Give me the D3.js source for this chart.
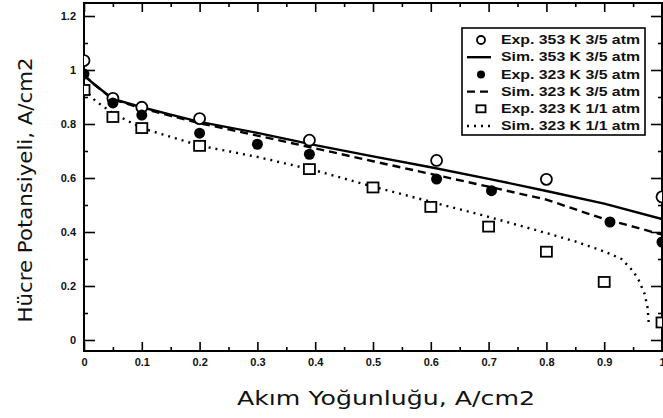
<!DOCTYPE html>
<html>
<head>
<meta charset="utf-8">
<script src="https://cdn.jsdelivr.net/npm/d3@7"></script>
<style>
  body { margin: 0; background: #fff; }
  svg { display: block; }
</style>
</head>
<body>
<div id="chart"></div>
<script>
// Exp. 353 K 3/5 atm (open circles)
const exp353X = [0, 0.05, 0.1, 0.2, 0.39, 0.61, 0.8, 1.0];
const exp353Y = [1.035, 0.895, 0.862, 0.82, 0.74, 0.665, 0.595, 0.53];
// Exp. 323 K 3/5 atm (filled circles)
const exp323X = [0, 0.05, 0.1, 0.2, 0.3, 0.39, 0.61, 0.705, 0.91, 1.0];
const exp323Y = [0.985, 0.878, 0.833, 0.766, 0.725, 0.688, 0.596, 0.553, 0.437, 0.363];
// Exp. 323 K 1/1 atm (open squares)
const exp323bX = [0, 0.05, 0.1, 0.2, 0.39, 0.5, 0.6, 0.7, 0.8, 0.9, 1.0];
const exp323bY = [0.926, 0.826, 0.785, 0.719, 0.633, 0.565, 0.493, 0.42, 0.327, 0.215, 0.065];
// Sim. 353 K 3/5 atm (solid)
const sim353X = [0, 0.016, 0.05, 0.1, 0.15, 0.2, 0.3, 0.4, 0.5, 0.6, 0.7, 0.8, 0.9, 1.0];
const sim353Y = [0.98, 0.95, 0.893, 0.862, 0.835, 0.808, 0.767, 0.722, 0.68, 0.64, 0.597, 0.552, 0.505, 0.448];
// Sim. 323 K 3/5 atm (dashed)
const sim323X = [0, 0.016, 0.05, 0.1, 0.15, 0.2, 0.3, 0.4, 0.5, 0.6, 0.7, 0.8, 0.9, 0.95, 1.0];
const sim323Y = [0.98, 0.95, 0.891, 0.858, 0.83, 0.803, 0.757, 0.71, 0.662, 0.615, 0.568, 0.52, 0.448, 0.42, 0.39];
// Sim. 323 K 1/1 atm (dotted)
const sim323bX = [0, 0.02, 0.05, 0.1, 0.2, 0.3, 0.4, 0.5, 0.6, 0.7, 0.8, 0.85, 0.9, 0.93, 0.95, 0.96, 0.97, 0.975, 0.977];
const sim323bY = [0.93, 0.885, 0.84, 0.785, 0.72, 0.678, 0.628, 0.568, 0.512, 0.456, 0.396, 0.365, 0.328, 0.3, 0.255, 0.22, 0.17, 0.12, 0.065];

const legendLabels = ["Exp. 353 K 3/5 atm", "Sim. 353 K 3/5 atm", "Exp. 323 K 3/5 atm",
  "Sim. 323 K 3/5 atm", "Exp. 323 K 1/1 atm", "Sim. 323 K 1/1 atm"];
const xTicks = [0, 0.1, 0.2, 0.3, 0.4, 0.5, 0.6, 0.7, 0.8, 0.9, 1];
const xTickLabels = ["0", "0.1", "0.2", "0.3", "0.4", "0.5", "0.6", "0.7", "0.8", "0.9", "1"];
const yTicks = [0, 0.2, 0.4, 0.6, 0.8, 1, 1.2];
const yTickLabels = ["0", "0.2", "0.4", "0.6", "0.8", "1", "1.2"];
const xTitle = "Akım Yoğunluğu, A/cm2";
const yTitle = "Hücre Potansiyeli, A/cm2";

const W = 663, H = 418;
const frame = {left: 84, right: 662, top: 3, bottom: 351};

const x = d3.scaleLinear().domain([0, 1]).range([84, 662]);
const y = d3.scaleLinear().domain([0, 1.2]).range([340, 16]);

const svg = d3.select("#chart").append("svg")
  .attr("width", W)
  .attr("height", H);

svg.append("defs").append("clipPath")
  .attr("id", "plotclip")
  .append("rect")
  .attr("x", frame.left).attr("y", frame.top)
  .attr("width", frame.right - frame.left)
  .attr("height", frame.bottom - frame.top);

const tickFont = "bold 11px 'Liberation Sans', Arial, sans-serif";

// minor ticks
const xMinor = d3.range(0.05, 1, 0.1);
const yMinor = [0.1, 0.3, 0.5, 0.7, 0.9, 1.1];

function styleAxis(g){
  g.select(".domain").remove();
  g.selectAll("line").attr("stroke", "#000").attr("stroke-width", 1.6);
  g.selectAll("text").style("font", tickFont).attr("fill", "#111");
}

// bottom axis
svg.append("g")
  .attr("transform", `translate(0, ${frame.bottom})`)
  .call(d3.axisBottom(x).tickValues(xTicks).tickFormat((d, i) => xTickLabels[i]).tickSize(-9).tickPadding(7))
  .call(styleAxis);
svg.append("g")
  .attr("transform", `translate(0, ${frame.bottom})`)
  .call(d3.axisBottom(x).tickValues(xMinor).tickFormat("").tickSize(-4))
  .call(styleAxis);
// top axis
svg.append("g")
  .attr("transform", `translate(0, ${frame.top})`)
  .call(d3.axisTop(x).tickValues(xTicks).tickFormat("").tickSize(-9))
  .call(styleAxis);
svg.append("g")
  .attr("transform", `translate(0, ${frame.top})`)
  .call(d3.axisTop(x).tickValues(xMinor).tickFormat("").tickSize(-4))
  .call(styleAxis);
// left axis
svg.append("g")
  .attr("transform", `translate(${frame.left}, 0)`)
  .call(d3.axisLeft(y).tickValues(yTicks).tickFormat((d, i) => yTickLabels[i]).tickSize(-11).tickPadding(8))
  .call(styleAxis);
svg.append("g")
  .attr("transform", `translate(${frame.left}, 0)`)
  .call(d3.axisLeft(y).tickValues(yMinor).tickFormat("").tickSize(-4))
  .call(styleAxis);
// right axis
svg.append("g")
  .attr("transform", `translate(${frame.right}, 0)`)
  .call(d3.axisRight(y).tickValues(yTicks).tickFormat("").tickSize(-11))
  .call(styleAxis);
svg.append("g")
  .attr("transform", `translate(${frame.right}, 0)`)
  .call(d3.axisRight(y).tickValues(yMinor).tickFormat("").tickSize(-4))
  .call(styleAxis);

// frame
svg.append("rect")
  .attr("x", frame.left).attr("y", frame.top)
  .attr("width", frame.right - frame.left)
  .attr("height", frame.bottom - frame.top)
  .attr("fill", "none")
  .attr("stroke", "#000")
  .attr("stroke-width", 2);

const plot = svg.append("g").attr("clip-path", "url(#plotclip)");

const line = d3.line()
  .x(d => x(d[0]))
  .y(d => y(d[1]));

const zip = (xs, ys) => xs.map((v, i) => [v, ys[i]]);

const lines = [
  {data: zip(sim353X, sim353Y), dash: null},
  {data: zip(sim323X, sim323Y), dash: "8,5"},
  {data: zip(sim323bX, sim323bY), dash: "2,5"}
];

plot.selectAll(".sim")
  .data(lines)
  .join("path")
  .attr("class", "sim")
  .attr("fill", "none")
  .attr("stroke", "#000")
  .attr("stroke-width", 2.4)
  .attr("stroke-dasharray", d => d.dash)
  .attr("d", d => line(d.data));

// open squares
plot.selectAll(".sq")
  .data(zip(exp323bX, exp323bY))
  .join("rect")
  .attr("class", "sq")
  .attr("x", d => x(d[0]) - 5.5)
  .attr("y", d => y(d[1]) - 5)
  .attr("width", 11)
  .attr("height", 10)
  .attr("fill", "#fff")
  .attr("stroke", "#000")
  .attr("stroke-width", 1.8);

// open circles
plot.selectAll(".oc")
  .data(zip(exp353X, exp353Y))
  .join("circle")
  .attr("class", "oc")
  .attr("cx", d => x(d[0]))
  .attr("cy", d => y(d[1]))
  .attr("r", 5.5)
  .attr("fill", "#fff")
  .attr("stroke", "#000")
  .attr("stroke-width", 1.8);

// filled circles
plot.selectAll(".fc")
  .data(zip(exp323X, exp323Y))
  .join("circle")
  .attr("class", "fc")
  .attr("cx", d => x(d[0]))
  .attr("cy", d => y(d[1]))
  .attr("r", 5.5)
  .attr("fill", "#000");

// legend
const legend = svg.append("g");
legend.append("rect")
  .attr("x", 462).attr("y", 28)
  .attr("width", 183).attr("height", 107)
  .attr("fill", "#fff")
  .attr("stroke", "#000")
  .attr("stroke-width", 1.6);

const rowY = i => 40 + i * 17.2;
legendLabels.forEach((label, i) => {
  const g = legend.append("g").attr("transform", `translate(0, ${rowY(i)})`);
  if (i === 0) g.append("circle").attr("cx", 481).attr("r", 4).attr("fill", "#fff").attr("stroke", "#000").attr("stroke-width", 1.8);
  if (i === 2) g.append("circle").attr("cx", 481).attr("r", 4).attr("fill", "#000");
  if (i === 4) g.append("rect").attr("x", 476.5).attr("y", -3.5).attr("width", 9).attr("height", 7).attr("fill", "#fff").attr("stroke", "#000").attr("stroke-width", 1.8);
  if (i % 2 === 1) {
    g.append("line")
      .attr("x1", 467).attr("x2", 491)
      .attr("stroke", "#000")
      .attr("stroke-width", 2.4)
      .attr("stroke-dasharray", lines[(i - 1) / 2].dash);
  }
  g.append("text")
    .attr("x", 501)
    .attr("dy", "0.35em")
    .attr("textLength", 139)
    .attr("lengthAdjust", "spacingAndGlyphs")
    .style("font", "bold 12px 'Liberation Sans', Arial, sans-serif")
    .attr("fill", "#111")
    .text(label);
});

// axis titles
svg.append("text")
  .attr("x", 386)
  .attr("y", 405)
  .attr("text-anchor", "middle")
  .attr("textLength", 298)
  .attr("lengthAdjust", "spacingAndGlyphs")
  .style("font", "19px 'DejaVu Sans', sans-serif")
  .attr("fill", "#111")
  .text(xTitle);

svg.append("text")
  .attr("transform", "rotate(-90)")
  .attr("x", -190)
  .attr("y", 32)
  .attr("text-anchor", "middle")
  .attr("textLength", 265)
  .attr("lengthAdjust", "spacingAndGlyphs")
  .style("font", "20px 'DejaVu Sans', sans-serif")
  .attr("fill", "#111")
  .text(yTitle);
</script>
</body>
</head>
